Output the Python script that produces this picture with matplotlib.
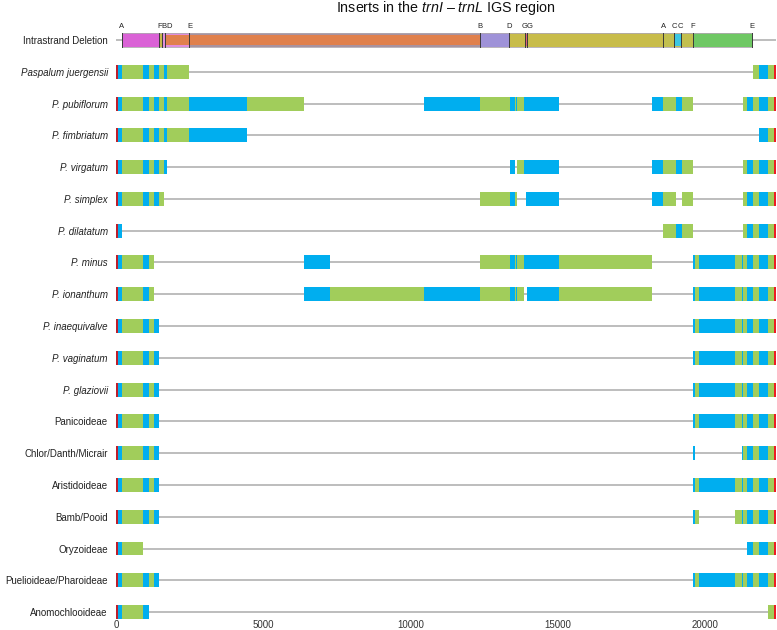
import matplotlib
matplotlib.use("Agg")
import matplotlib.pyplot as plt
from matplotlib.patches import Rectangle

plt.rcParams['font.family'] = ['Liberation Sans', 'DejaVu Sans']
plt.rcParams['mathtext.fontset'] = 'custom'
plt.rcParams['mathtext.rm'] = 'Liberation Sans'
plt.rcParams['mathtext.it'] = 'Liberation Sans:italic'

# ---------------- data ----------------
row_names = ["Intrastrand Deletion", "Paspalum juergensii", "P. pubiflorum", "P. fimbriatum",
             "P. virgatum", "P. simplex", "P. dilatatum", "P. minus", "P. ionanthum",
             "P. inaequivalve", "P. vaginatum", "P. glaziovii", "Panicoideae",
             "Chlor/Danth/Micrair", "Aristidoideae", "Bamb/Pooid", "Oryzoideae",
             "Puelioideae/Pharoideae", "Anomochlooideae"]
italic_rows = [False, True, True, True, True, True, True, True, True, True, True, True,
               False, False, False, False, False, False, False]
seq_end = 22430
x_ticks = [0, 5000, 10000, 15000, 20000]

# common blocks (start, end, kind)
left_block = [(0, 68, 'r'), (68, 194, 'b'), (194, 895, 'g'), (895, 1099, 'b'),
              (1099, 1292, 'g'), (1292, 1462, 'b'), (1462, 1633, 'g'), (1633, 1724, 'b'),
              (1724, 2483, 'g')]
tail_block = [(21300, 21416, 'g'), (21416, 21640, 'b'), (21640, 21827, 'g'),
              (21827, 22141, 'b'), (22141, 22335, 'g'), (22335, 22430, 'R')]
big_block = [(19600, 19658, 'b'), (19658, 19804, 'g'), (19804, 21018, 'b'),
             (21018, 21246, 'g'), (21246, 21300, 'b')]
right4_block = [(18185, 18580, 'b'), (18580, 19002, 'g'), (19002, 19226, 'b'), (19226, 19600, 'g')]
mid_block = [(12370, 13366, 'g'), (13366, 13536, 'b'), (13536, 13593, 'g'),
             (13593, 13627, 'b'), (13627, 13852, 'g'), (13852, 15033, 'b')]

seg_paspalum = left_block + tail_block[2:]
seg_pubiflorum = left_block + [(2483, 4445, 'b'), (4445, 6370, 'g'), (10451, 12370, 'b')] + \
    mid_block + right4_block + tail_block
seg_fimbriatum = left_block + [(2483, 4445, 'b')] + tail_block[3:]
seg_virgatum = left_block[:8] + [(13366, 13536, 'b'), (13614, 13852, 'g'), (13852, 15033, 'b')] + \
    right4_block + tail_block
seg_simplex = left_block[:7] + [(12370, 13366, 'g'), (13366, 13536, 'b'), (13536, 13620, 'g'),
                                (13933, 15033, 'b'), (18185, 18580, 'b'), (18580, 19002, 'g'),
                                (19206, 19600, 'g')] + tail_block
seg_dilatatum = left_block[:2] + right4_block[1:] + tail_block
seg_minus = left_block[:5] + [(6370, 7244, 'b')] + mid_block + [(15033, 18185, 'g')] + \
    big_block + tail_block
seg_ionanthum = left_block[:5] + [(6370, 7244, 'b'), (7244, 10451, 'g'), (10451, 12370, 'b')] + \
    mid_block[:5] + [(13954, 15033, 'b'), (15033, 18185, 'g')] + big_block + tail_block
seg_big = left_block[:6] + big_block + tail_block
seg_chlor = left_block[:6] + [(19600, 19658, 'b'), (21246, 21300, 'b')] + tail_block
seg_bamb = left_block[:6] + big_block[:2] + big_block[3:] + tail_block
seg_oryz = left_block[:3] + tail_block[1:]
seg_anomo = left_block[:4] + tail_block[4:]

row_segments = [None, seg_paspalum, seg_pubiflorum, seg_fimbriatum, seg_virgatum, seg_simplex,
                seg_dilatatum, seg_minus, seg_ionanthum, seg_big, seg_big, seg_big, seg_big,
                seg_chlor, seg_big, seg_bamb, seg_oryz, seg_big, seg_anomo]

# intrastrand deletion: visible pieces and boundary labels
del_pieces = [(180, 1462, '#da62d6'), (1462, 1600, '#c9b84c'), (1600, 2483, '#e08ddb'),
              (2483, 12370, '#a8929f'), (12370, 13342, '#9f92d8'), (13342, 18580, '#c8bc4a'),
              (18580, 19600, '#c2bf4e'), (19600, 21607, '#6fc864')]
del_overlay = [(1667, 12370, '#e0804c'), (13876, 13954, '#e0607a'), (18954, 19172, '#3cc6e2')]
del_marks = [180, 1462, 1565, 1667, 2483, 12370, 13342, 13876, 13954, 18580, 18954, 19172, 19600, 21607]
del_letters = ['A', 'F', 'B', 'D', 'E', 'B', 'D', 'G', 'G', 'A', 'C', 'C', 'F', 'E']

colors = {'r': '#be1e2d', 'b': '#00aeef', 'g': '#a1cd5b', 'R': '#ed1c24'}

# ---------------- plot ----------------
W, H = 777, 630
fig = plt.figure(figsize=(W / 100, H / 100), dpi=100)
ax_left, ax_right = 112 / W, 777 / W
ax_top, ax_bot = 25.7 / H, 621.6 / H
ax = fig.add_axes([ax_left, 1 - ax_bot, ax_right - ax_left, ax_bot - ax_top])

bh = 0.44
line_c = '#bdbdbd'
for i, name in enumerate(row_names):
    ax.plot([0, seq_end], [i, i], color=line_c, lw=1.4, zorder=1, solid_capstyle='butt')
    segs = row_segments[i]
    if segs is None:
        continue
    for s, e, k in segs:
        ax.add_patch(Rectangle((s, i - bh / 2), e - s, bh, facecolor=colors[k],
                               edgecolor='none', zorder=2))

ax.set_xlim(-150, 22450)
ax.set_ylim(18.3, -0.45)

# deletion row
for s, e, c in del_pieces:
    ax.add_patch(Rectangle((s, -bh / 2), e - s, bh, facecolor=c, edgecolor='none', zorder=2))
ax.add_patch(Rectangle((del_pieces[0][0], -bh / 2), del_pieces[-1][1] - del_pieces[0][0], bh,
                       facecolor='none', edgecolor='#b0a8b0', lw=0.6, zorder=3))
for j, (s, e, c) in enumerate(del_overlay):
    hh = bh * 0.72 if j == 0 else bh * 0.8
    ax.add_patch(Rectangle((s, -hh / 2), e - s, hh, facecolor=c, edgecolor='none', zorder=3))

# dodge crowded letters (in pixels)
fig.canvas.draw()
px_per_unit = ax.bbox.width / (22450 + 150)
prev_px = -1e9
for m, L in zip(del_marks, del_letters):
    ax.plot([m, m], [-bh / 2, bh / 2], color='#3a3a3a', lw=0.7, zorder=4)
    mpx = m * px_per_unit
    lpx = max(mpx, prev_px + 4.6)
    prev_px = lpx
    ax.annotate(L, xy=(m, -bh / 2 - 0.08), xytext=((lpx - mpx) * 0.72, 0),
                textcoords='offset points', ha='center', va='bottom', fontsize=5.5,
                color='#222222', annotation_clip=False)

ax.set_yticks(range(len(row_names)))
ax.set_yticklabels(row_names)
for lab, it in zip(ax.get_yticklabels(), italic_rows):
    lab.set_fontstyle('italic' if it else 'normal')
    lab.set_fontsize(7)
    lab.set_color('#222222')
ax.set_xticks(x_ticks)
ax.set_xticklabels([str(t) for t in x_ticks], fontsize=7, color='#333333')
ax.tick_params(axis='both', length=0)
ax.tick_params(axis='y', pad=3)
ax.tick_params(axis='x', pad=-0.8)
for sp in ax.spines.values():
    sp.set_visible(False)

fig.text(446 / W, 1 - 8 / H, r"Inserts in the $\it{trnI}$ – $\it{trnL}$ IGS region",
         ha='center', va='center', fontsize=10.3, color='#111111')

fig.savefig('out.png', dpi=100)
